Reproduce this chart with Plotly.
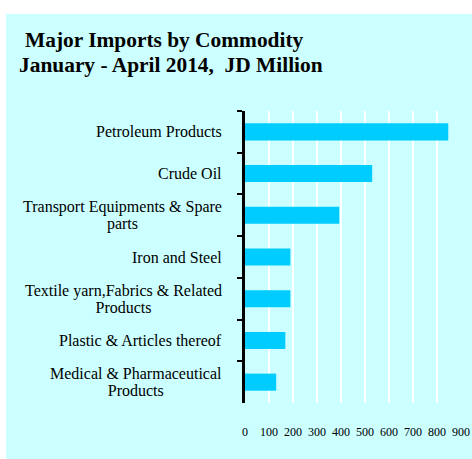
import plotly.graph_objects as go

# Commodity categories (top to bottom) and import values, JD million
commodities = [
    "Petroleum Products",
    "Crude Oil",
    "Transport Equipments & Spare<br>parts",
    "Iron and Steel",
    "Textile yarn,Fabrics & Related<br>Products",
    "Plastic & Articles thereof",
    "Medical & Pharmaceutical<br>Products",
]
values = [847, 530, 393, 189, 189, 168, 130]
x_ticks = [0, 100, 200, 300, 400, 500, 600, 700, 800, 900]

W, H = 472, 459
ML, MR, MT, MB = 245, 11, 111, 56
pw, ph = W - ML - MR, H - MT - MB

def px_x(x):
    return (x - ML) / pw

def px_y(y):
    return (H - MB - y) / ph

TITLE_FONT = dict(family="Liberation Serif", size=21.4, color="black")
LABEL_PX = 16
LINE_STEP_FONT = 12.8  # outer size: sets the 1.3em step between wrapped lines

fig = go.Figure(
    go.Bar(
        x=values,
        y=commodities,
        orientation="h",
        marker=dict(color="#00CCFF", line=dict(width=0)),
    )
)

# Category labels: right-aligned to the axis with wrapped lines centred
def label_text(c):
    return "<br>".join(
        f"<span style='font-size:{LABEL_PX}px'>{part}</span>" for part in c.split("<br>")
    )

label_annotations = [
    dict(
        text=label_text(c), xref="paper", yref="y", x=px_x(224), y=c,
        xanchor="right", yanchor="middle", align="center",
        showarrow=False,
        font=dict(family="Liberation Serif", size=LINE_STEP_FONT, color="black"),
    )
    for c in commodities
]

fig.update_layout(
    width=W,
    height=H,
    margin=dict(l=ML, r=MR, t=MT, b=MB, pad=0, autoexpand=False),
    paper_bgcolor="white",
    plot_bgcolor="rgba(0,0,0,0)",
    bargap=0.59,
    showlegend=False,
    font=dict(family="Liberation Serif", size=13, color="black"),
    shapes=[
        dict(
            type="rect", xref="paper", yref="paper",
            x0=px_x(6), x1=px_x(490), y0=px_y(480), y1=px_y(14),
            fillcolor="#CCFFFF", line=dict(width=0), layer="below",
        )
    ],
    annotations=[
        dict(
            text="<b>Major Imports by Commodity</b>",
            xref="paper", yref="paper", x=px_x(23), y=px_y(53.5),
            xanchor="left", yanchor="bottom", showarrow=False,
            font=TITLE_FONT,
        ),
        dict(
            text="<b>January - April 2014,  JD Million</b>",
            xref="paper", yref="paper", x=px_x(17), y=px_y(78.5),
            xanchor="left", yanchor="bottom", showarrow=False,
            font=TITLE_FONT,
        ),
    ] + label_annotations,
)

fig.update_xaxes(
    range=[0, 900],
    tickvals=x_ticks,
    ticktext=[str(v) for v in x_ticks],
    showgrid=True,
    gridcolor="white",
    gridwidth=2,
    zeroline=False,
    showline=False,
    ticks="",
    ticklabelstandoff=20,
    tickfont=dict(family="Liberation Serif", size=12),
    automargin=False,
    fixedrange=True,
)

fig.update_yaxes(
    autorange="reversed",
    showline=True,
    linecolor="black",
    linewidth=3,
    ticks="outside",
    tickson="boundaries",
    ticklen=5,
    tickwidth=2,
    tickcolor="black",
    showgrid=False,
    showticklabels=False,
    automargin=False,
    fixedrange=True,
)

fig.write_html("out.html", config={"displayModeBar": False})
